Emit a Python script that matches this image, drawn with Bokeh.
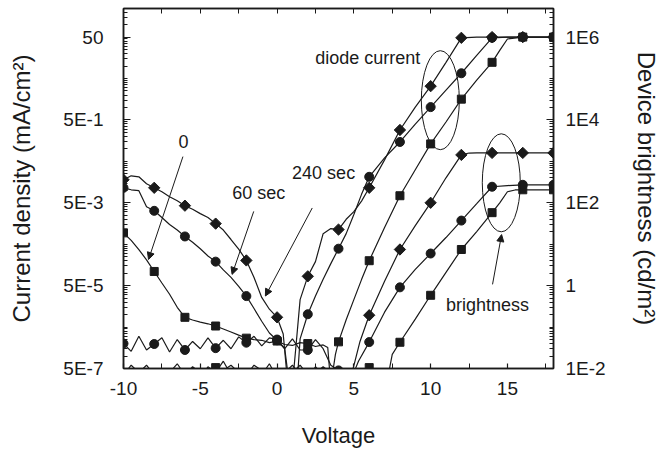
import math
from bokeh.plotting import figure
from bokeh.models import (LogAxis, LinearAxis, Range1d, FixedTicker, Arrow,
                          NormalHead, LogScale)
from bokeh.embed import file_html
from bokeh.resources import INLINE
from bokeh.core.properties import value

FONT = "Liberation Sans"
INK = "#1a1a1a"

# ---------------- data: current density (mA/cm^2) ----------------
v_cur_240 = [-10, -9.5, -9, -8.5, -8, -7.5, -7, -6.5, -6, -5.5, -5, -4.5, -4, -3.5, -3, -2.5, -2,
             -1.5, -1, -0.5, 0, 0.4, 0.7, 1.0, 1.2, 1.5, 2, 2.5, 3, 3.5, 4, 4.5, 5, 5.5, 6, 7, 8,
             9, 10, 11, 12, 13, 14, 15, 16, 17, 18]
j_cur_240 = [0.018, 0.0224, 0.0212, 0.0144, 0.0115, 0.0092, 0.0070, 0.0056, 0.00426, 0.0035,
             0.00274, 0.0022, 0.00157, 0.0011, 6.5e-4, 3.8e-4, 2.03e-4, 7.9e-5, 2.6e-5, 1.35e-5,
             8.6e-6, 3.4e-6, 2e-7, 2e-7, 1.3e-6, 2.3e-5, 8.4e-5, 1.9e-4, 9.0e-4, 1.19e-3, 1.13e-3,
             2.0e-3, 3.05e-3, 5.5e-3, 0.0115, 0.0543, 0.286, 1.02, 3.27, 12.3, 48, 50, 50, 50, 50,
             50, 50]

v_cur_60 = [-10, -9.5, -9, -8.5, -8, -7.5, -7, -6.5, -6, -5.5, -5, -4.5, -4, -3.5, -3, -2.5, -2,
            -1.5, -1, -0.5, 0, 0.5, 0.8, 1.3, 1.5, 2, 2.5, 3, 3.5, 4, 4.5, 5, 5.5, 6, 7, 8, 9, 10,
            11, 12, 13, 14, 15, 16, 17, 18]
j_cur_60 = [0.0115, 0.0103, 0.0098, 0.0040, 0.0032, 0.0022, 0.0015, 0.0011, 7.7e-4, 5.6e-4,
            3.9e-4, 2.6e-4, 1.9e-4, 1.2e-4, 7.9e-5, 4.8e-5, 2.8e-5, 1.4e-5, 6.9e-6, 3.6e-6,
            2.4e-6, 1.5e-6, 2e-7, 2e-7, 2.6e-6, 1.02e-5, 2.8e-5, 7.1e-5, 1.7e-4, 3.9e-4, 9e-4,
            2.6e-3, 8e-3, 0.0212, 0.0607, 0.147, 0.398, 1.02, 2.62, 6.7, 18.2, 48, 50, 50, 50, 50]

v_cur_0 = [-10, -9.5, -9, -8.5, -8, -7.5, -7, -6.5, -6, -5.5, -5, -4.5, -4, -3.5, -3, -2.5, -2,
           -1.5, -1, -0.5, 0, 0.5, 1, 1.5, 2, 2.5, 3, 3.3, 3.5, 3.8, 4, 4.5, 5, 5.5, 6, 7, 8, 9,
           10, 11, 12, 13, 14, 14.5, 15, 16, 17, 18]
j_cur_0 = [9.4e-4, 6.2e-4, 3.7e-4, 2.1e-4, 1.1e-4, 5.8e-5, 3.1e-5, 1.5e-5, 8.6e-6, 7.4e-6,
           6.6e-6, 6.0e-6, 5.3e-6, 4.5e-6, 3.8e-6, 3.2e-6, 2.7e-6, 2.5e-6, 2.4e-6, 2.1e-6,
           2.3e-6, 1.9e-6, 1.8e-6, 2.1e-6, 2.0e-6, 1.7e-6, 1.85e-6, 1.6e-6, 2e-7, 1.1e-6, 2.2e-6,
           7.5e-6, 2.3e-5, 7e-5, 2.0e-4, 1.26e-3, 7.4e-3, 0.0313, 0.132, 0.446, 1.59, 4.55, 12.3,
           23.9, 45, 50, 50, 50]

# ---------------- data: brightness (cd/m^2) ----------------
v_br_240 = [-10, -9.5, -9, -8.5, -8, -7.5, -7, -6.5, -6, -5.5, -5, -4.5, -4, -3.5, -3, -2.5, -2,
            -1.5, -1, -0.5, 0, 0.5, 1, 1.5, 2, 2.5, 3, 3.5, 4, 4.5, 4.8, 5.4, 6, 7, 8, 9, 10, 11,
            12, 12.5, 13, 14, 15, 16, 17, 18]
b_br_240 = [0.007, 0.012, 0.008, 0.006, 0.007, 0.007, 0.009, 0.006, 0.007, 0.007, 0.006, 0.011,
            0.008, 0.015, 0.007, 0.006, 0.007, 0.009, 0.007, 0.013, 0.006, 0.008, 0.012, 0.007,
            0.006, 0.011, 0.007, 0.008, 0.006, 0.006, 0.006, 0.045, 0.193, 1.27, 7.46, 28.2, 100,
            401, 1432, 1590, 1600, 1600, 1600, 1600, 1600, 1600]

v_br_60 = [-10, -9.5, -9, -8.5, -8, -7.5, -7, -6.5, -6, -5.5, -5, -4.5, -4, -3.5, -3, -2.5, -2,
           -1.5, -1, -0.5, 0, 0.5, 1, 1.5, 2, 2.5, 3, 3.5, 4, 4.5, 5, 5.3, 6, 7, 8, 9, 10, 11, 12,
           13, 14, 15, 16, 17, 18]
b_br_60 = [0.040, 0.026, 0.060, 0.028, 0.039, 0.055, 0.025, 0.050, 0.028, 0.045, 0.030, 0.055,
           0.031, 0.048, 0.030, 0.058, 0.042, 0.060, 0.035, 0.055, 0.050, 0.030, 0.052, 0.028,
           0.028, 0.050, 0.030, 0.012, 0.009, 0.008, 0.008, 0.015, 0.0434, 0.229, 0.91, 2.47,
           5.97, 14.5, 37.2, 95, 244, 260, 272, 272, 272]

v_br_0 = [-10, -9.5, -9, -8.5, -8, -7.5, -7, -6.5, -6, -5.5, -5, -4.5, -4, -3.5, -3, -2.5, -2,
          -1.5, -1, -0.5, 0, 0.5, 1, 1.5, 2, 2.5, 3, 3.5, 4, 4.5, 5, 5.5, 6, 6.5, 7, 7.3, 7.5, 8,
          9, 10, 11, 12, 13, 14, 14.5, 15, 15.5, 16, 17, 18]
b_br_0 = [0.008, 0.009, 0.008, 0.012, 0.007, 0.009, 0.008, 0.013, 0.007, 0.011, 0.008, 0.009,
          0.0105, 0.009, 0.012, 0.008, 0.007, 0.012, 0.009, 0.008, 0.007, 0.009, 0.008, 0.012,
          0.007, 0.008, 0.011, 0.008, 0.007, 0.009, 0.008, 0.009, 0.0105, 0.008, 0.008, 0.009,
          0.022, 0.043, 0.155, 0.585, 2.09, 7.46, 20.2, 57.8, 100, 185, 204, 206, 206, 206]

# ---------------- axes / ticks ----------------
x_ticks = [-10, -5, 0, 5, 10, 15]
x_labels = ["-10", "-5", "0", "5", "10", "15"]
x_minor = [-7.5, -2.5, 2.5, 7.5, 12.5, 17.5]
left_ticks = [5e-7, 5e-5, 5e-3, 5e-1, 50]
left_labels = ["5E-7", "5E-5", "5E-3", "5E-1", "50"]
right_ticks = [1e-2, 1, 1e2, 1e4, 1e6]
right_labels = ["1E-2", "1", "1E2", "1E4", "1E6"]
decades = [1e-2, 1e-1, 1, 1e1, 1e2, 1e3, 1e4, 1e5, 1e6]
RATIO = 2e4  # brightness axis value per current-density axis value

# ---------------- annotations ----------------
ann_text = ["0", "60 sec", "240 sec", "diode current", "brightness"]
ann_x = [-6.1, -1.2, 3.03, 5.9, 13.7]
ann_y = [0.147, 8.7e-3, 0.0264, 15.4, 1.68e-5]
arr_x0 = [-6.13, -1.52, 2.29, 14.03]
arr_y0 = [0.0652, 3.1e-3, 3.75e-3, 5.37e-5]
arr_x1 = [-8.37, -2.93, -0.76, 14.62]
arr_y1 = [2.14e-4, 9.35e-5, 2.81e-5, 8.55e-4]
ell_x = [10.63, 14.6]
ell_y = [1.50, 0.0152]
ell_w = [38, 38]
ell_h = [99, 98]

W, H = 663, 450
p = figure(width=W, height=H, output_backend="svg", toolbar_location=None,
           y_axis_type="log", x_range=Range1d(-10, 18), y_range=Range1d(5e-7, 245),
           min_border_left=123, min_border_right=110, min_border_top=8,
           min_border_bottom=82)
p.extra_y_ranges = {"bright": Range1d(5e-7 * RATIO, 245 * RATIO)}
p.extra_y_scales = {"bright": LogScale()}
p.xgrid.visible = False
p.ygrid.visible = False
p.outline_line_color = INK
p.outline_line_width = 1.5
p.background_fill_color = "white"
p.border_fill_color = "white"


def style_axis(ax, tick_in=6, minor_in=4):
    ax.axis_line_color = INK
    ax.axis_line_width = 1.5
    ax.major_tick_line_color = INK
    ax.minor_tick_line_color = INK
    ax.major_tick_line_width = 1.2
    ax.minor_tick_line_width = 1
    ax.major_tick_in = tick_in
    ax.major_tick_out = 0
    ax.minor_tick_in = minor_in
    ax.minor_tick_out = 0
    ax.major_label_text_font = FONT
    ax.major_label_text_font_size = "19px"
    ax.major_label_text_color = INK
    ax.axis_label_text_font = FONT
    ax.axis_label_text_font_size = "24px"
    ax.axis_label_text_font_style = "normal"
    ax.axis_label_text_color = INK


# bottom x axis
xa = p.xaxis[0]
xa.ticker = FixedTicker(ticks=x_ticks, minor_ticks=x_minor)
xa.major_label_overrides = {t: s for t, s in zip(x_ticks, x_labels)}
style_axis(xa, 5, 5)
xa.axis_label = "Voltage"
xa.axis_label_text_font_size = "22px"
xa.major_label_standoff = 13
xa.axis_label_standoff = 25

# top mirror axis: unlabeled ticks only
ta = LinearAxis(ticker=FixedTicker(ticks=[], minor_ticks=x_ticks + x_minor))
style_axis(ta, 5, 5)
ta.major_label_standoff = 0
p.add_layout(ta, "above")

# left axis
lminor = [k * m / RATIO for m in decades for k in range(1, 10)
          if k * m / RATIO not in left_ticks]
ya = p.yaxis[0]
ya.ticker = FixedTicker(ticks=left_ticks, minor_ticks=lminor)
ya.major_label_overrides = {t: s for t, s in zip(left_ticks, left_labels)}
style_axis(ya, 7, 4)
ya.axis_label = "Current density (mA/cm\u00b2)"
ya.major_label_standoff = 20
ya.axis_label_standoff = 25

# right axis
rminor = [k * m for m in decades for k in range(1, 10) if k * m not in right_ticks]
ra = LogAxis(y_range_name="bright",
             ticker=FixedTicker(ticks=right_ticks, minor_ticks=rminor))
ra.major_label_overrides = {t: s for t, s in zip(right_ticks, right_labels)}
style_axis(ra, 7, 4)
ra.axis_label = "Device brightness (cd/m\u00b2)"
ra.major_label_standoff = 12
ra.axis_label_standoff = 24
p.add_layout(ra, "right")


def curve(vs, ys, marker, size, rng="default", angle=0.0):
    kw = {} if rng == "default" else {"y_range_name": rng}
    p.line(vs, ys, line_color=INK, line_width=1.2, **kw)
    mx = [v for v in vs if float(v).is_integer() and int(v) % 2 == 0]
    my = [y for v, y in zip(vs, ys) if float(v).is_integer() and int(v) % 2 == 0]
    p.scatter(mx, my, marker=marker, size=size, angle=angle, fill_color=INK,
              line_color=INK, **kw)


curve(v_cur_0, j_cur_0, "square", 8)
curve(v_cur_60, j_cur_60, "circle", 9)
curve(v_cur_240, j_cur_240, "square", 8, angle=math.pi / 4)
curve(v_br_0, b_br_0, "square", 8, "bright")
curve(v_br_60, b_br_60, "circle", 9, "bright")
curve(v_br_240, b_br_240, "square", 8, "bright", angle=math.pi / 4)

p.ellipse(x=ell_x, y=ell_y, width=ell_w, height=ell_h, width_units="screen",
          height_units="screen", fill_color=None, line_color=INK, line_width=1)

p.text(x=ann_x, y=ann_y, text=ann_text, text_font=value(FONT), text_font_size="18px",
       text_align="center", text_baseline="middle", text_color=INK)

for x0, y0, x1, y1 in zip(arr_x0, arr_y0, arr_x1, arr_y1):
    p.add_layout(Arrow(end=NormalHead(size=7, fill_color=INK, line_color=INK, line_width=1),
                       x_start=x0, y_start=y0, x_end=x1, y_end=y1,
                       line_color=INK, line_width=1))

open("out.html", "w").write(file_html(p, INLINE))
